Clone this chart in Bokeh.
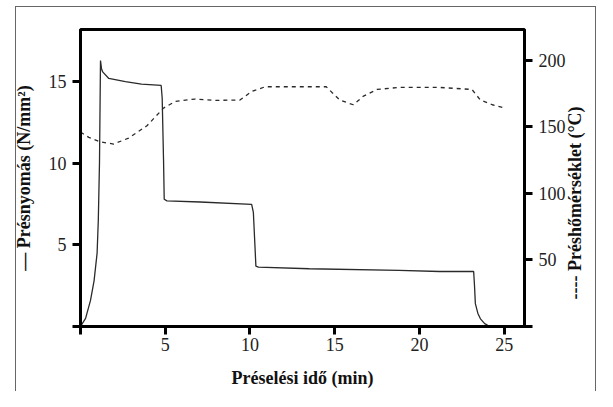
import math
from bokeh.plotting import figure
from bokeh.models import Range1d, LinearAxis, FixedTicker
from bokeh.embed import file_html
from bokeh.resources import INLINE

# Pressure (N/mm2) vs time (min)
time_p = [0, 0.3, 0.59, 0.8, 0.98, 1.05, 1.12, 1.18, 1.24, 1.31, 1.67, 2.65, 3.6, 4.76,
          4.82, 4.9, 4.94, 5.1, 7.06, 10.1, 10.2, 10.35, 10.5, 13.5, 18.8, 21.2, 23.2,
          23.25, 23.3, 23.45, 23.6, 23.85, 24.1]
pressure = [0, 0.5, 1.6, 2.8, 4.5, 6.5, 10.0, 16.3, 15.8, 15.6, 15.2, 15.0, 14.85, 14.77,
            14.0, 10.2, 7.8, 7.7, 7.63, 7.48, 7.0, 3.7, 3.64, 3.54, 3.44, 3.37, 3.37,
            2.5, 1.4, 0.8, 0.47, 0.18, 0.03]

# Press temperature (°C) vs time (min)
time_t = [0, 0.49, 1.2, 1.96, 2.84, 3.92, 4.9, 5.59, 6.76, 7.94, 9.41, 10.1, 10.9, 13.0,
          14.5, 14.9, 15.3, 16.1, 16.7, 17.5, 18.8, 21.2, 23.1, 23.6, 24.3, 24.9]
temperature = [146, 142, 138.5, 137, 141.5, 150.7, 164, 169, 170.8, 169.8, 170, 176.5, 180,
               180, 180, 175, 170, 166.5, 173, 178, 179.5, 179.5, 178, 170, 166.5, 164.5]

x_ticks = [0, 5, 10, 15, 20, 25]
y_left_ticks = [0, 5, 10, 15]
y_right_ticks = [0, 50, 100, 150, 200]

x_label = "Préselési idő (min)"
y_left_label = "— Présnyomás (N/mm²)"
y_right_label = "---- Préshőmérséklet (°C)"

FONT = "Liberation Serif"

p = figure(width=597, height=391, output_backend="svg", toolbar_location=None,
           x_range=Range1d(0, 26.2), y_range=Range1d(0, 18.2),
           min_border_left=80, min_border_right=71, min_border_top=29, min_border_bottom=65)
p.border_fill_color = None
p.background_fill_color = None
p.styles = {
    "background-color": "white",
    "background-image": "linear-gradient(#666,#666), linear-gradient(#666,#666), linear-gradient(#666,#666)",
    "background-size": "1px 400px, 581px 1px, 1px 400px",
    "background-position": "15px 6px, 15px 6px, 595px 6px",
    "background-repeat": "no-repeat",
}
p.extra_y_ranges = {"temp": Range1d(0, 223)}
p.grid.visible = False
p.outline_line_color = "black"
p.outline_line_width = 3

p.line(time_p, pressure, line_color="#2a2a2a", line_width=1.3)
p.line(time_t, temperature, y_range_name="temp", line_color="#2a2a2a",
       line_width=1.3, line_dash="4 4")

def style(ax, ticks, label):
    ax.ticker = FixedTicker(ticks=ticks)
    ax.major_label_overrides = {0: ""}
    ax.minor_tick_line_color = None
    ax.major_tick_in = 0
    ax.major_tick_out = 8
    ax.major_tick_line_width = 3
    ax.axis_line_width = 3
    ax.major_label_text_font = FONT
    ax.major_label_text_font_size = "18px"
    ax.major_label_text_color = "#222"
    ax.major_label_standoff = 6
    ax.axis_label = label
    ax.axis_label_text_font = FONT
    ax.axis_label_text_font_style = "bold"
    ax.axis_label_text_font_size = "18px"
    ax.axis_label_text_color = "#111"

style(p.xaxis[0], x_ticks, x_label)
p.xaxis[0].major_label_standoff = 3
p.xaxis[0].axis_label_standoff = 14
style(p.yaxis[0], y_left_ticks, y_left_label)
p.yaxis[0].axis_label_standoff = 12

r_axis = LinearAxis(y_range_name="temp")
style(r_axis, y_right_ticks, "\u00a0" * 6 + y_right_label)
r_axis.axis_label_standoff = 6
r_axis.axis_label_orientation = math.pi / 2
if "axis_label_align" in r_axis.properties():
    r_axis.axis_label_align = "start"
p.add_layout(r_axis, "right")

open("out.html", "w").write(file_html(p, INLINE))
